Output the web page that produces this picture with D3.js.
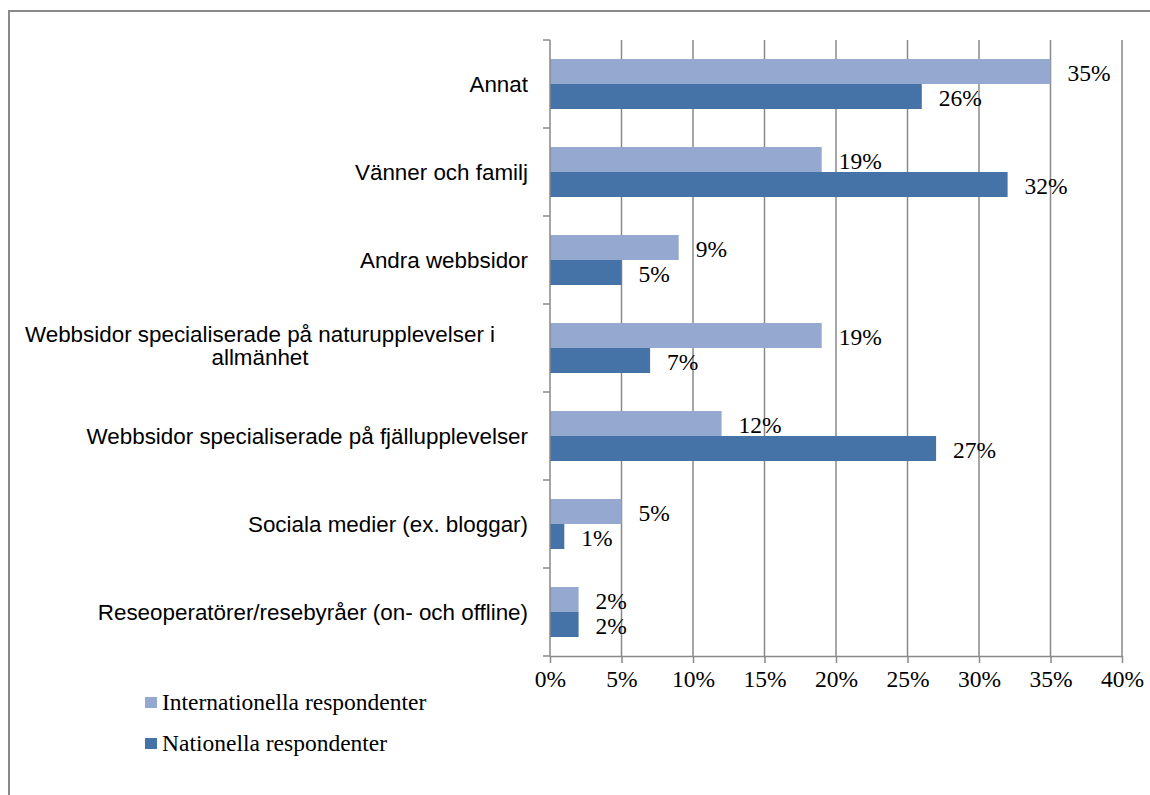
<!DOCTYPE html>
<html>
<head>
<meta charset="utf-8">
<script src="https://cdn.jsdelivr.net/npm/d3@7"></script>
<style>
  body { margin: 0; background: #fff; }
  svg { display: block; }
</style>
</head>
<body>
<div id="chart"></div>
<script>
// categories, top to bottom
var categories = [
    "Annat",
    "Vänner och familj",
    "Andra webbsidor",
    "Webbsidor specialiserade på naturupplevelser i allmänhet",
    "Webbsidor specialiserade på fjällupplevelser",
    "Sociala medier (ex. bloggar)",
    "Reseoperatörer/resebyråer (on- och offline)"
];
var series_names = ["Internationella respondenter", "Nationella respondenter"];
var international = [35, 19, 9, 19, 12, 5, 2];
var national = [26, 32, 5, 7, 27, 1, 2];
var x_ticks = [0, 5, 10, 15, 20, 25, 30, 35, 40];
var colors = ["#95a9d0", "#4572a7"];

var svg_width = 1150, svg_height = 795;
var margins = {top: 40, right: 28, bottom: 139, left: 550};
var chartWidth = 1122 - margins.left;
var chartHeight = 656 - margins.top;

var serif = "'Liberation Serif', 'Times New Roman', serif";
var sans = "'Liberation Sans', Arial, sans-serif";
var grid_color = "#898989";

var svg = d3.select("#chart").append("svg")
    .attr("width", svg_width)
    .attr("height", svg_height);

// outer frame (runs past right/bottom edge)
svg.append("rect")
    .attr("x", 9).attr("y", 11)
    .attr("width", svg_width + 20).attr("height", svg_height + 20)
    .attr("fill", "none")
    .attr("stroke", "#898989")
    .attr("stroke-width", 2);

var g = svg.append("g")
    .attr("transform", `translate(${margins.left},${margins.top})`);

var x = d3.scaleLinear().domain([0, 40]).range([0, chartWidth]);
var y = d3.scaleBand().domain(categories).range([0, chartHeight]).padding(0);
var y1 = d3.scaleBand().domain(series_names).range([0, y.bandwidth()])
    .paddingInner(0).paddingOuter(0.76);

// gridlines
g.selectAll(".grid").data(x_ticks.slice(1)).enter().append("line")
    .attr("x1", d => x(d)).attr("x2", d => x(d))
    .attr("y1", 0).attr("y2", chartHeight)
    .attr("stroke", grid_color).attr("stroke-width", 1.5);

// bars
var rows = categories.map((c, i) => ({cat: c, vals: [international[i], national[i]]}));
var cat_group = g.selectAll(".cat").data(rows).enter().append("g")
    .attr("transform", d => `translate(0,${y(d.cat)})`);

cat_group.selectAll("rect")
    .data(d => d.vals.map((v, j) => ({name: series_names[j], v: v, j: j})))
    .enter().append("rect")
    .attr("x", 0)
    .attr("y", d => y1(d.name))
    .attr("width", d => x(d.v))
    .attr("height", y1.bandwidth())
    .attr("fill", d => colors[d.j]);

// value labels
cat_group.selectAll(".val")
    .data(d => d.vals.map((v, j) => ({name: series_names[j], v: v, j: j})))
    .enter().append("text")
    .attr("x", d => x(d.v) + 17)
    .attr("y", d => y1(d.name) + y1.bandwidth() / 2 + 1)
    .attr("dy", "0.35em")
    .attr("font-family", serif)
    .attr("font-size", "23.5px")
    .attr("fill", "#000")
    .text(d => d.v + "%");

// left axis
var left_axis = g.append("g");
left_axis.append("line")
    .attr("x1", 0).attr("x2", 0).attr("y1", 0).attr("y2", chartHeight)
    .attr("stroke", grid_color).attr("stroke-width", 1.5);
left_axis.selectAll(".ytick").data(d3.range(categories.length + 1)).enter().append("line")
    .attr("x1", -7).attr("x2", 0)
    .attr("y1", d => d * y.step()).attr("y2", d => d * y.step())
    .attr("stroke", grid_color).attr("stroke-width", 1.5);

// category labels, long ones wrapped and centred
categories.forEach(function(c) {
    var t = g.append("text")
        .attr("font-family", sans)
        .attr("font-size", "22.4px")
        .attr("fill", "#000");
    var words = c.split(" ");
    var lines = [], line = [];
    words.forEach(function(w) {
        line.push(w);
        t.text(line.join(" "));
        if (t.node().getComputedTextLength() > 500 && line.length > 1) {
            line.pop();
            lines.push(line.join(" "));
            line = [w];
        }
    });
    lines.push(line.join(" "));
    t.text(null);
    var cy = y(c) + y.bandwidth() / 2;
    var lh = 23;
    if (lines.length === 1) {
        t.attr("text-anchor", "end")
            .attr("x", -22).attr("y", cy).attr("dy", "0.35em")
            .text(lines[0]);
    } else {
        t.attr("text-anchor", "middle");
        lines.forEach(function(l, k) {
            t.append("tspan")
                .attr("x", -290)
                .attr("y", cy - 2.5 + (k - (lines.length - 1) / 2) * lh)
                .attr("dy", "0.35em")
                .text(l);
        });
    }
});

// bottom axis
var bottom_axis = d3.axisBottom(x)
    .tickValues(x_ticks)
    .tickSize(7)
    .tickSizeOuter(0)
    .tickFormat(d => d + "%");
var xAxis = g.append("g")
    .attr("transform", `translate(0,${chartHeight})`)
    .call(bottom_axis);
xAxis.select(".domain").attr("stroke", grid_color).attr("stroke-width", 1.5);
xAxis.selectAll(".tick line").attr("stroke", grid_color).attr("stroke-width", 1.5);
xAxis.selectAll(".tick text")
    .attr("font-family", serif)
    .attr("font-size", "23.5px")
    .attr("fill", "#000")
    .attr("y", 14)
    .attr("dy", "0.71em");

// legend
var legend = svg.append("g");
series_names.forEach(function(s, i) {
    var ly = 702 + i * 41;
    legend.append("rect")
        .attr("x", 145).attr("y", ly - 5)
        .attr("width", 12).attr("height", 11)
        .attr("fill", colors[i]);
    legend.append("text")
        .attr("x", 162).attr("y", ly)
        .attr("dy", "0.35em")
        .attr("font-family", serif)
        .attr("font-size", "23.5px")
        .attr("fill", "#000")
        .text(s);
});
</script>
</body>
</html>
